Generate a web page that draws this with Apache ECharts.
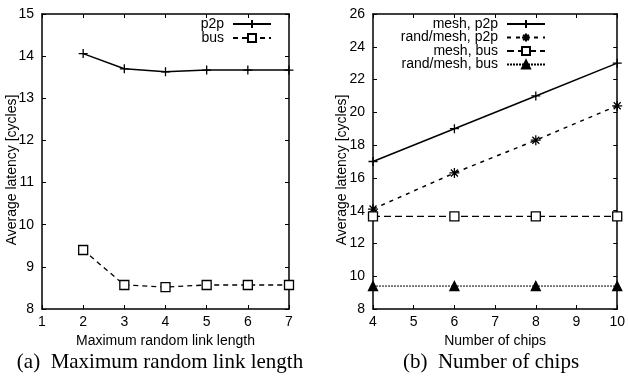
<!DOCTYPE html>
<html>
<head>
<meta charset="utf-8">
<script src="https://cdn.jsdelivr.net/npm/echarts@6/dist/echarts.min.js"></script>
<style>html,body{margin:0;padding:0;background:#fff}#c{width:628px;height:377px}</style>
</head>
<body>
<div id="c"></div>
<script>
// Panel (a)
var xA = [2, 3, 4, 5, 6, 7];
var p2pA = [14.06, 13.70, 13.63, 13.67, 13.67, 13.67];
var busA = [9.40, 8.57, 8.52, 8.57, 8.57, 8.57];
// Panel (b)
var xB = [4, 6, 8, 10];
var meshP2p = [17.0, 19.0, 21.0, 23.0];
var randMeshP2p = [14.1, 16.3, 18.3, 20.4];
var meshBus = [13.65, 13.65, 13.65, 13.65];
var randMeshBus = [9.4, 9.4, 9.4, 9.4];

var xTicksA = [1, 7, 1];   // min, max, interval
var yTicksA = [8, 15, 1];
var xTicksB = [4, 10, 1];
var yTicksB = [8, 26, 2];

var namesA = ['p2p', 'bus'];
var namesB = ['mesh, p2p', 'rand/mesh, p2p', 'mesh, bus', 'rand/mesh, bus'];
var xNameA = 'Maximum random link length';
var xNameB = 'Number of chips';
var yName = 'Average latency [cycles]';
var captionA = '(a)\u2002Maximum random link length';
var captionB = '(b)\u2002Number of chips';

function pairs(xs, ys) { return xs.map(function (x, i) { return [x, ys[i]]; }); }

var SANS = 'Liberation Sans';
var SERIF = 'Liberation Serif';
var PLUS = 'path://M0,-1L0,1M-1,0L1,0';
var STAR = 'path://M0,-1L0,1M-1,0L1,0M-0.7,-0.7L0.7,0.7M-0.7,0.7L0.7,-0.7';

function axis(pos, gi, t, showLabel, name) {
  return {
    type: 'value', gridIndex: gi, position: pos, min: t[0], max: t[1], interval: t[2],
    axisLine: { show: true, onZero: false, lineStyle: { color: '#000', width: 1.5 } },
    axisTick: { show: true, inside: true, length: 4, lineStyle: { color: '#000', width: 1 } },
    axisLabel: { show: showLabel, color: '#000', fontFamily: SANS, fontSize: 14, margin: (pos === 'left' ? 8 : 6) },
    splitLine: { show: false },
    name: name || '', nameLocation: 'middle', nameGap: 24,
    nameTextStyle: { color: '#000', fontFamily: SANS, fontSize: 14 }
  };
}

function ser(name, xi, yi, data, symbol, size, fill, lineType, lw) {
  return {
    type: 'line', name: name, xAxisIndex: xi, yAxisIndex: yi, data: data,
    symbol: symbol, symbolSize: size, showSymbol: true, clip: false, animation: false,
    lineStyle: { color: '#000', width: lw, type: lineType },
    itemStyle: { color: fill, borderColor: '#000', borderWidth: 1.3 }
  };
}

function legend(name, top, right) {
  return {
    data: [name], top: top, right: right, orient: 'vertical', align: 'right',
    padding: 0, itemWidth: 38, itemHeight: 10, itemGap: 0, selectedMode: false,
    textStyle: { color: '#000', fontFamily: SANS, fontSize: 14, padding: [0, 4, 0, 0] }
  };
}

var option = {
  animation: false,
  backgroundColor: '#fff',
  grid: [
    { left: 42, right: 339, top: 14, bottom: 68 },
    { left: 373, right: 9, top: 14, bottom: 68 }
  ],
  xAxis: [
    axis('bottom', 0, xTicksA, true, xNameA),
    axis('top', 0, xTicksA, false),
    axis('bottom', 1, xTicksB, true, xNameB),
    axis('top', 1, xTicksB, false)
  ],
  yAxis: [
    axis('left', 0, yTicksA, true),
    axis('right', 0, yTicksA, false),
    axis('left', 1, yTicksB, true),
    axis('right', 1, yTicksB, false)
  ],
  legend: [
    legend(namesA[0], 17, 356),
    legend(namesA[1], 31, 356),
    legend(namesB[0], 17, 82),
    legend(namesB[1], 30.5, 82),
    legend(namesB[2], 44, 82),
    legend(namesB[3], 57.5, 82)
  ],
  series: [
    ser(namesA[0], 0, 0, pairs(xA, p2pA), PLUS, 9, '#000', 'solid', 1.5),
    ser(namesA[1], 0, 0, pairs(xA, busA), 'rect', 9, '#fff', [5, 4], 1.3),
    ser(namesB[0], 2, 2, pairs(xB, meshP2p), PLUS, 9, '#000', 'solid', 1.5),
    ser(namesB[1], 2, 2, pairs(xB, randMeshP2p), STAR, 10, '#000', [4, 5], 1.5),
    ser(namesB[2], 2, 2, pairs(xB, meshBus), 'rect', 9, '#fff', [7, 4], 1.3),
    ser(namesB[3], 2, 2, pairs(xB, randMeshBus), 'triangle', 9, '#000', [2, 1], 1)
  ],
  graphic: [
    { type: 'text', x: 12, y: 170, rotation: Math.PI / 2,
      style: { text: yName, fill: '#000', font: '14px "Liberation Sans"', textAlign: 'center', textVerticalAlign: 'middle' } },
    { type: 'text', x: 342, y: 170, rotation: Math.PI / 2,
      style: { text: yName, fill: '#000', font: '14px "Liberation Sans"', textAlign: 'center', textVerticalAlign: 'middle' } },
    { type: 'text', x: 160, y: 362,
      style: { text: captionA, fill: '#000', font: '21px "Liberation Serif"', textAlign: 'center', textVerticalAlign: 'middle' } },
    { type: 'text', x: 491, y: 362,
      style: { text: captionB, fill: '#000', font: '21px "Liberation Serif"', textAlign: 'center', textVerticalAlign: 'middle' } }
  ]
};
var chart = echarts.init(document.getElementById('c'), null, { renderer: 'canvas' });
chart.setOption(option);
</script>
</body>
</html>
